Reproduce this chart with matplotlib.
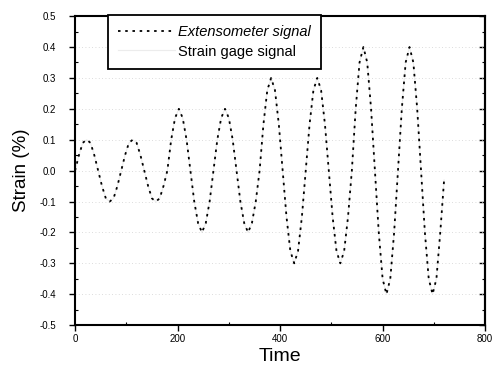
import numpy as np
import matplotlib
matplotlib.use('Agg')
import matplotlib.pyplot as plt
from matplotlib.ticker import MultipleLocator, FormatStrFormatter, NullFormatter

plt.rcParams['font.family'] = ['Liberation Sans', 'DejaVu Sans']

time = np.arange(0, 720.1, 7.5)
cyc1 = [0.0, 0.05, 0.09, 0.10, 0.09, 0.05, 0.0, -0.05, -0.09, -0.10, -0.09, -0.05]
cyc2 = [0.0, 0.10, 0.17, 0.20, 0.17, 0.10, 0.0, -0.10, -0.17, -0.20, -0.17, -0.10]
cyc3 = [0.0, 0.15, 0.26, 0.30, 0.26, 0.15, 0.0, -0.15, -0.26, -0.30, -0.26, -0.15]
cyc4 = [0.0, 0.20, 0.35, 0.40, 0.35, 0.20, 0.0, -0.20, -0.35, -0.40, -0.35, -0.20]
extenso = cyc1 * 2 + cyc2 * 2 + cyc3 * 2 + cyc4 * 2 + [-0.03]
# strain gage trace barely survives in the scan; it follows the extensometer
gage = list(extenso)

fig = plt.figure(figsize=(4.94, 3.75), dpi=100)
ax = fig.add_axes([0.152, 0.133, 0.83, 0.824])

ax.plot(time, gage, color='#ececec', linewidth=0.8, zorder=1,
        label='Strain gage signal')
ax.plot(time, extenso, color='black', linewidth=1.3,
        linestyle=(0, (1.4, 2.6)), zorder=3, label='Extensometer signal')

ax.set_xlim(0, 800)
ax.set_ylim(-0.5, 0.5)
ax.xaxis.set_major_locator(MultipleLocator(200))
ax.xaxis.set_minor_locator(MultipleLocator(100))
ax.yaxis.set_major_locator(MultipleLocator(0.1))
ax.yaxis.set_minor_locator(MultipleLocator(0.05))
ax.yaxis.set_major_formatter(FormatStrFormatter('%.1f'))
ax.grid(axis='y', color='#d0d0d0', linestyle=(0, (1, 3)), linewidth=0.6)

for s in ax.spines.values():
    s.set_linewidth(1.5)
ax.tick_params(which='major', direction='out', length=4.5, width=1,
               labelsize=7)
ax.tick_params(axis='y', which='major', pad=9)
ax.tick_params(axis='x', which='major', pad=2)
ax.tick_params(which='minor', direction='in', length=2.5, width=0.8)

# right-hand ticks point inwards
rax = ax.secondary_yaxis('right')
rax.yaxis.set_major_locator(MultipleLocator(0.1))
rax.yaxis.set_minor_locator(MultipleLocator(0.05))
rax.yaxis.set_major_formatter(NullFormatter())
rax.tick_params(which='major', direction='in', length=4, width=1)
rax.tick_params(which='minor', direction='in', length=2, width=0.8)
rax.spines['right'].set_linewidth(1.5)

ax.set_xlabel('Time', fontsize=14, labelpad=3)
ax.set_ylabel('Strain (%)', fontsize=13.5, labelpad=7)

handles, labels = ax.get_legend_handles_labels()
leg = ax.legend(handles[::-1], labels[::-1], loc='upper left',
                bbox_to_anchor=(0.08, 1.003), fontsize=10.5, frameon=True,
                fancybox=False, edgecolor='black', framealpha=1,
                borderpad=0.7, handlelength=3.9, handletextpad=0.2,
                labelspacing=0.35, borderaxespad=0)
leg.get_frame().set_linewidth(1.3)
leg.get_texts()[0].set_style('italic')

fig.savefig('out.png', dpi=100)
